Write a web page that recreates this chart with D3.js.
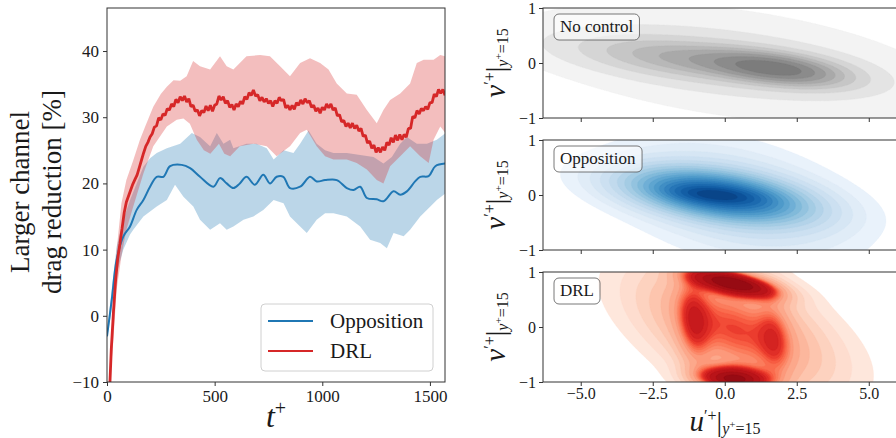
<!DOCTYPE html>
<html><head><meta charset="utf-8">
<script src="https://cdn.jsdelivr.net/npm/d3@7"></script>
<style>
body{margin:0;background:#fff}
svg{display:block}
text{font-family:"Liberation Serif","Times New Roman",serif;fill:#1a1a1a}
</style></head>
<body><svg id="c" width="896" height="438"></svg>
<script>
// ================= DATA =================
// Left panel: drag reduction vs t+
const xTicksLeft = [0, 500, 1000, 1500];
const yTicksLeft = [-10, 0, 10, 20, 30, 40];
const seriesNames = ["Opposition", "DRL"];

const oppT    = [0,22,45,76,107,138,169,200,231,262,293,347,386,432,494,525,556,587,617,648,687,726,757,788,819,850,897,943,974,1013,1067,1114,1145,1176,1207,1253,1284,1331,1362,1393,1431,1455,1494,1525,1572];
const oppMean = [-3.1,2.4,8.5,12,13.5,16,17.5,19.5,21,21,22.6,22.8,22.3,21,19.5,20.8,20,19.3,20,21,19.8,21.3,20,21,21,19.3,19.5,21,20.3,20.5,20.5,19.3,19,19.5,17.8,17.6,17.3,18.8,18.3,18.8,20.3,21,21.1,22.6,23];

const oppUpT  = [0,22,45,76,107,138,169,200,231,278,340,394,432,479,510,541,572,587,648,695,742,774,820,866,897,936,974,1013,1052,1114,1176,1238,1284,1323,1362,1393,1439,1486,1532,1572];
const oppUp   = [-2.5,4,10.5,14.5,17.5,20,22.5,23.8,24.6,25.3,26,27.6,27,25.6,27.6,26,26.6,25.3,26,26,25.3,23.6,25,24.6,26,28,26,25,24.6,24.6,24.3,24,23,24,26,27,26,26,26.6,27.6];
const oppLoT  = [0,22,45,76,107,122,169,231,278,316,355,401,432,479,525,556,587,634,680,726,774,820,850,897,928,974,1013,1052,1114,1176,1222,1269,1300,1331,1378,1408,1455,1502,1532,1572];
const oppLo   = [-3.5,1,6.5,10,12.3,13,15,16.5,17.5,19.8,18,16.5,14.5,13,14,13,13.5,14.5,15,16,17.5,17,15,13.5,12.5,14.5,15.5,15.5,15,13.5,11.5,11,10.2,12.5,12,13,15,16.5,17.5,18.5];

// DRL series sampled every 10 time units (t+ = 0..1570)
const drlT0 = 0, drlStep = 10;
const drlMean = [
 -25,-13,-5,0.6,5.4,8.7,10.9,13.2,15.6,17.2,
 18.1,19.0,19.9,20.6,21.3,22.4,23.5,24.6,25.6,26.2,
 27.0,27.5,28.5,28.7,29.9,29.6,30.5,30.3,31.3,31.1,
 32.0,31.6,32.7,32.2,33.1,32.5,33.2,32.3,32.8,31.6,
 31.8,30.9,31.1,30.2,31.0,30.7,31.7,31.0,31.8,30.9,
 31.8,32.0,33.2,32.6,33.1,32.1,32.5,31.5,31.9,31.1,
 32.0,31.6,32.4,32.0,33.1,32.7,33.7,33.3,34.1,33.2,
 33.4,32.5,33.0,32.3,32.8,32.1,32.5,31.6,32.5,32.1,
 33.0,32.5,32.7,31.4,31.8,31.1,31.8,31.2,32.2,31.8,
 32.6,32.0,32.8,32.2,32.5,31.5,31.8,30.9,31.4,30.6,
 31.5,31.1,32.0,31.4,32.0,31.1,31.4,30.2,30.4,29.3,
 29.5,28.6,29.1,28.4,29.1,28.3,28.8,27.9,28.3,27.1,
 27.3,26.1,26.4,25.3,25.8,24.7,25.4,24.7,25.5,25.0,
 26.2,25.8,26.9,26.2,27.3,26.5,27.4,26.6,27.4,27.0,
 28.3,28.3,30.1,29.9,31.0,30.5,31.3,31.0,31.6,31.2,
 32.2,32.2,33.5,33.1,34.2,33.6,34.2,33.3];

const drlUpT = [13,29,45,67,90,122,153,176,215,250,278,309,340,370,400,432,479,525,556,587,648,711,757,804,850,897,943,990,1029,1067,1114,1160,1207,1253,1284,1315,1362,1408,1439,1471,1517,1548,1572];
const drlUp  = [-10,3,10,17,20.5,23.5,26.6,28.5,31.6,33.5,34.6,35.6,35.5,36.2,38.5,37.7,37.2,39.2,37.7,37.2,39.2,39.4,39.2,37.7,36.2,38.2,38.9,38.2,37.2,35.1,33.6,33.4,31.1,29.1,31.1,32.6,33.6,35.1,38.2,38.7,38.7,39.4,39.2];
const drlLoT = [13,29,45,67,90,122,169,215,278,324,355,385,417,450,480,520,545,572,617,680,742,788,850,897,928,974,1013,1052,1114,1160,1207,1253,1284,1315,1362,1408,1455,1494,1517,1548,1572];
const drlLo  = [-10,-4,4,9,13,16.5,21.5,25.6,28.6,29.6,29.8,29,26.6,25,24.5,26,24.5,24.1,25.6,26,25.6,24.1,25.6,27.6,28.1,25.6,24.1,23.6,23.6,23.1,22.1,20.5,20,22.6,24.1,25.6,24.1,23.1,26.6,28.6,27.6];

// Right panels: joint PDFs of u' and v' at y+=15, described as kernel components
// each: [centre u, centre v, sigma u, sigma v, correlation, weight]
const panelNames = ["No control", "Opposition", "DRL"];
const uTicks = [-5, -2.5, 0, 2.5, 5];
const vTicks = [-1, 0, 1];
const pdfNoControl = [
  [1.9, -0.11, 1.5, 0.20, -0.45, 1.0],
  [-1.2, 0.07, 2.4, 0.26, -0.50, 0.5],
  [0.3, 0.00, 4.0, 0.60, -0.45, 0.12]];
const pdfOpposition = [
  [-0.3, 0.00, 2.0, 0.30, -0.45, 1.0],
  [-0.3, 0.00, 0.9, 0.10, -0.40, 0.5],
  [0.4, -0.10, 2.4, 0.65, -0.40, 0.25]];
const pdfDRL = [
  [0.3, 0.80, 1.0, 0.17, -0.60, 1.0],
  [0.3, -0.95, 0.8, 0.15, -0.20, 0.9],
  [-1.1, 0.05, 0.40, 0.60, -0.20, 0.28],
  [1.75, -0.20, 0.40, 0.55, -0.20, 0.20],
  [0.3, -0.05, 1.6, 0.90, -0.30, 0.15],
  [0.4, -0.05, 2.2, 0.70, -0.55, 0.40]];
const levelCounts = [10, 20, 20];

// ================= DRAW =================
const svg = d3.select("#c");
const defs = svg.append("defs");
const minus = d => (d < 0 ? "\u2212" + Math.abs(d) : "" + d);

// ---- Left panel ----
const L = {x0: 107, x1: 445, y0: 8, y1: 382};
const xL = d3.scaleLinear().domain([0, 1570]).range([L.x0, L.x1]);
const yL = d3.scaleLinear().domain([-10, 46.5]).range([L.y1, L.y0]);
defs.append("clipPath").attr("id", "clipL").append("rect")
  .attr("x", L.x0).attr("y", L.y0).attr("width", L.x1 - L.x0).attr("height", L.y1 - L.y0);
const gL = svg.append("g").attr("clip-path", "url(#clipL)");

const blue = "#1f77b4", red = "#d62728";
function bandPath(tU, vU, tD, vD) {
  const pts = tU.map((t, i) => [xL(t), yL(vU[i])]);
  const lo = tD.map((t, i) => [xL(t), yL(vD[i])]).reverse();
  return d3.line()(pts.concat(lo)) + "Z";
}
gL.append("path").attr("d", bandPath(oppUpT, oppUp, oppLoT, oppLo)).attr("fill", blue).attr("fill-opacity", 0.3);
gL.append("path").attr("d", bandPath(drlUpT, drlUp, drlLoT, drlLo)).attr("fill", red).attr("fill-opacity", 0.3);
gL.append("path").datum(oppT.map((t, i) => [t, oppMean[i]]))
  .attr("d", d3.line().x(d => xL(d[0])).y(d => yL(d[1])).curve(d3.curveCatmullRom))
  .attr("fill", "none").attr("stroke", blue).attr("stroke-width", 2);
gL.append("path").datum(drlMean.map((v, i) => [drlT0 + i * drlStep, v]))
  .attr("d", d3.line().x(d => xL(d[0])).y(d => yL(d[1])))
  .attr("fill", "none").attr("stroke", red).attr("stroke-width", 2.8).attr("stroke-linejoin", "bevel");

const axL = svg.append("g").attr("transform", `translate(${L.x0},0)`)
  .call(d3.axisLeft(yL).tickValues(yTicksLeft).tickSize(4).tickPadding(4).tickFormat(minus));
const axB = svg.append("g").attr("transform", `translate(0,${L.y1})`)
  .call(d3.axisBottom(xL).tickValues(xTicksLeft).tickSize(4).tickPadding(4).tickFormat(d3.format("d")));
[axL, axB].forEach(a => {
  a.select(".domain").remove();
  a.selectAll("text").attr("font-size", 17).attr("font-family", "Liberation Serif").attr("fill", "#1a1a1a");
  a.selectAll("line").attr("stroke", "#333");
});
svg.append("rect").attr("x", L.x0).attr("y", L.y0).attr("width", L.x1 - L.x0).attr("height", L.y1 - L.y0)
  .attr("fill", "none").attr("stroke", "#333").attr("stroke-width", 1);

// y title
const yt = svg.append("text").attr("transform", "translate(0,192) rotate(-90)").attr("text-anchor", "middle").attr("font-size", 27);
yt.append("tspan").attr("x", 0).attr("y", 29).text("Larger channel");
yt.append("tspan").attr("x", 0).attr("y", 61).text("drag reduction [%]");
// x title
const xt = svg.append("text").attr("x", 276).attr("y", 427).attr("text-anchor", "middle");
xt.append("tspan").attr("font-style", "italic").attr("font-size", 32).text("t");
xt.append("tspan").attr("font-size", 20).attr("dy", -12).text("+");

// legend
const lg = svg.append("g");
lg.append("rect").attr("x", 261).attr("y", 304).attr("width", 172).attr("height", 67).attr("rx", 4)
  .attr("fill", "#fff").attr("fill-opacity", 0.8).attr("stroke", "#d0d0d0");
seriesNames.forEach((n, i) => {
  const y = 321 + i * 30;
  lg.append("line").attr("x1", 268).attr("x2", 313).attr("y1", y).attr("y2", y)
    .attr("stroke", i ? red : blue).attr("stroke-width", 2);
  lg.append("text").attr("x", 330).attr("y", y + 7).attr("font-size", 21).text(n);
});

// ---- Right panels ----
const R = {x0: 543, x1: 906.5};
const panelTops = [8, 140, 272];
const panelH = 110;
const xR = d3.scaleLinear().domain([-6.31, 6.31]).range([R.x0, R.x1]);
const gu0 = -9, gu1 = 9, gv0 = -2.2, gv1 = 2.2, nu = 401, nv = 221;
const du = (gu1 - gu0) / (nu - 1), dv = (gv1 - gv0) / (nv - 1);

function densityGrid(comps) {
  const vals = new Float64Array(nu * nv);
  for (let j = 0; j < nv; j++) {
    const v = gv0 + j * dv;
    for (let i = 0; i < nu; i++) {
      const u = gu0 + i * du;
      let s = 0;
      for (const [mu, mv, su, sv, rho, w] of comps) {
        const a = (u - mu) / su, b = (v - mv) / sv;
        s += w * Math.exp(-0.5 * (a * a - 2 * rho * a * b + b * b) / (1 - rho * rho));
      }
      vals[j * nu + i] = s;
    }
  }
  return vals;
}
function isoLevels(vals, n) {
  const sorted = Array.from(vals).sort((a, b) => b - a);
  const tot = d3.sum(sorted);
  let cum = 0;
  const norm = sorted.map(v => (cum += v) / tot);
  const props = d3.range(n).map(k => 0.05 + 0.95 * k / (n - 1));
  return props.map(p => sorted[Math.min(d3.bisectLeft(norm, 1 - p), sorted.length - 1)]).slice(0, n - 1);
}
const pdfs = [pdfNoControl, pdfOpposition, pdfDRL];
const colorRanges = [
  d3.interpolateRgb("#f3f3f3", "#7c7c7c"),
  t => d3.interpolateBlues(0.07 + 0.85 * t),
  t => d3.interpolateReds(0.08 + 0.82 * t)];

function axisLabel(sel, letter) {
  sel.append("tspan").attr("font-style", "italic").attr("font-size", 29).text(letter);
  sel.append("tspan").attr("font-size", 16).attr("dy", -10).text("\u2032+");
  sel.append("tspan").attr("font-size", 28).attr("dy", 10).text("|");
  sel.append("tspan").attr("font-size", 16).attr("font-style", "italic").attr("dy", 3).text("y");
  sel.append("tspan").attr("font-size", 11).attr("dy", -6).text("+");
  sel.append("tspan").attr("font-size", 16).attr("dy", 6).text("=15");
}

pdfs.forEach((comps, p) => {
  const top = panelTops[p], bot = top + panelH;
  const yR = d3.scaleLinear().domain([-1, 1]).range([bot, top]);
  defs.append("clipPath").attr("id", "clipR" + p).append("rect")
    .attr("x", R.x0).attr("y", top).attr("width", R.x1 - R.x0).attr("height", panelH);
  const g = svg.append("g").attr("clip-path", `url(#clipR${p})`);
  const vals = densityGrid(comps);
  const levels = isoLevels(vals, levelCounts[p]);
  const proj = d3.geoTransform({point(x, y) {
    this.stream.point(xR(gu0 + (x - 0.5) * du), yR(gv0 + (y - 0.5) * dv));
  }});
  const path = d3.geoPath(proj);
  const cs = d3.contours().size([nu, nv]).thresholds(levels)(vals);
  cs.forEach((c, k) => {
    const col = colorRanges[p](k / (cs.length - 1));
    g.append("path").attr("d", path(c)).attr("fill", col).attr("stroke", col).attr("stroke-width", 0.3);
  });
  // axes
  const ay = svg.append("g").attr("transform", `translate(${R.x0},0)`)
    .call(d3.axisLeft(yR).tickValues(vTicks).tickSize(4).tickPadding(3).tickFormat(minus));
  const ax = svg.append("g").attr("transform", `translate(0,${bot})`)
    .call(d3.axisBottom(xR).tickValues(uTicks).tickSize(4).tickPadding(2).tickFormat(d3.format(".1f")));
  if (p < 2) ax.selectAll("text").remove();
  [ay, ax].forEach(a => {
    a.select(".domain").remove();
    a.selectAll("text").attr("font-size", 16).attr("font-family", "Liberation Serif").attr("fill", "#1a1a1a");
    a.selectAll("line").attr("stroke", "#333");
  });
  svg.append("rect").attr("x", R.x0).attr("y", top).attr("width", R.x1 - R.x0).attr("height", panelH)
    .attr("fill", "none").attr("stroke", "#333").attr("stroke-width", 1);
  // name box
  const bx = svg.append("g");
  const tx = bx.append("text").attr("x", 560).attr("y", top + 23.5).attr("font-size", 17).text(panelNames[p]);
  const bb = tx.node().getBBox();
  bx.insert("rect", "text").attr("x", bb.x - 6).attr("y", top + 6).attr("width", bb.width + 12).attr("height", 26)
    .attr("rx", 5).attr("fill", "#fff").attr("fill-opacity", 0.55).attr("stroke", "#555").attr("stroke-width", 0.8);
  // v label
  const vl = svg.append("text").attr("transform", `translate(505,${top + panelH / 2}) rotate(-90)`).attr("text-anchor", "middle");
  axisLabel(vl, "v");
});
// u label
const ul = svg.append("text").attr("x", 725).attr("y", 431).attr("text-anchor", "middle");
axisLabel(ul, "u");
</script></body></html>
